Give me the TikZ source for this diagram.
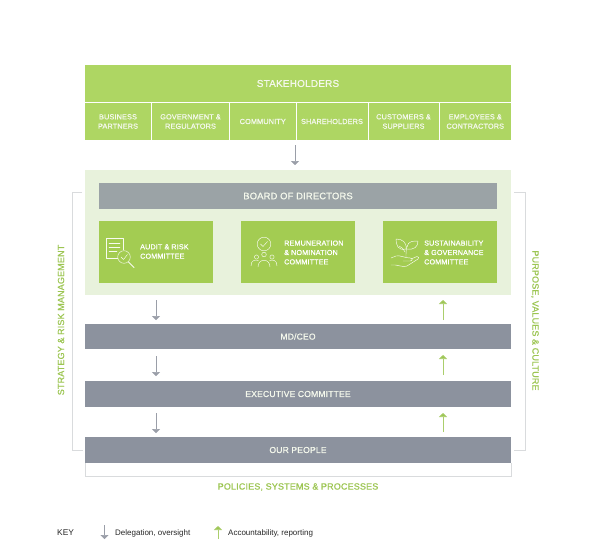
\documentclass[tikz,border=0pt]{standalone}
\usepackage{fontspec}
\setmainfont{Liberation Sans}[BoldFont={Liberation Sans},BoldFeatures={FakeBold=0.8,LetterSpace=1.8}]
\usetikzlibrary{arrows.meta}
\definecolor{gTop}{HTML}{AED663}
\definecolor{gCom}{HTML}{A3CC52}
\definecolor{gLight}{HTML}{E8F2DC}
\definecolor{gText}{HTML}{9CC552}
\definecolor{board}{HTML}{9BA3A6}
\definecolor{bar}{HTML}{8C929E}
\definecolor{rule}{HTML}{D9DBDD}
\definecolor{arrG}{HTML}{9A9EA8}
\definecolor{txtW}{HTML}{F4F8EC}
\tikzset{
  x=1pt,y=-1pt,
  cell/.style={anchor=north west,inner sep=0pt,outer sep=0pt,align=center,text=txtW,font=\bfseries\fontsize{7.3}{9.4}\selectfont},
  head/.style={cell,font=\fontsize{10}{12}\selectfont\bfseries},
  topbox/.style={cell,fill=gTop},
  topbig/.style={head,fill=gTop},
  combox/.style={cell,fill=gCom},
  boardbox/.style={head,fill=board,font=\fontsize{9.4}{11}\selectfont\bfseries},
  barbox/.style={head,fill=bar,font=\fontsize{8.6}{11}\selectfont\bfseries},
  lab/.style={inner sep=0pt,text=white,align=left,font=\bfseries\fontsize{7.2}{9.4}\selectfont},
  side/.style={inner sep=0pt,text=gText,font=\bfseries\fontsize{9}{11}\selectfont},
  keytxt/.style={inner sep=0pt,anchor=west,text=black!85,font=\fontsize{8}{9}\selectfont},
  downarr/.style={draw=arrG,line width=.6pt,-{Triangle[width=8pt,length=4pt,fill=arrG]}},
  uparr/.style={draw=gText!85!white,line width=.6pt,-{Triangle[width=8pt,length=4pt,fill=gText]}},
  brk/.style={draw=rule,line width=.7pt},
  ico/.style={draw=white!92!gCom,line width=.45pt,line cap=round,line join=round},
}
\begin{document}
\begin{tikzpicture}
\useasboundingbox (0,0) rectangle (594,557);
% stakeholders
\node[topbig,minimum width=426pt,minimum height=37pt] (st) at (85,65) {STAKEHOLDERS};
\node[topbox,minimum width=66pt,minimum height=37pt] (s1) at (85,103) {BUSINESS\\PARTNERS};
\node[topbox,minimum width=77pt,minimum height=37pt] (s2) at (152,103) {GOVERNMENT \&\\REGULATORS};
\node[topbox,minimum width=65.5pt,minimum height=37pt] (s3) at (230,103) {COMMUNITY};
\node[topbox,minimum width=71pt,minimum height=37pt] (s4) at (296.5,103) {SHAREHOLDERS};
\node[topbox,minimum width=70pt,minimum height=37pt] (s5) at (368.5,103) {CUSTOMERS \&\\SUPPLIERS};
\node[topbox,minimum width=71.5pt,minimum height=37pt] (s6) at (439.5,103) {EMPLOYEES \&\\CONTRACTORS};
% board group
\node[cell,fill=gLight,minimum width=426pt,minimum height=125pt] (grp) at (85,170) {};
\node[boardbox,minimum width=398pt,minimum height=26pt] (bd) at (99,183) {BOARD OF DIRECTORS};
\node[combox,minimum width=114pt,minimum height=62pt] (c1) at (99,221) {};
\node[combox,minimum width=114pt,minimum height=62pt] (c2) at (241,221) {};
\node[combox,minimum width=114pt,minimum height=62pt] (c3) at (383,221) {};
\node[lab,anchor=west] (l1) at (140,251.5) {AUDIT \& RISK\\COMMITTEE};
\node[lab,anchor=west] (l2) at (284,252.5) {REMUNERATION\\\&  NOMINATION\\COMMITTEE};
\node[lab,anchor=west] (l3) at (424,252.5) {SUSTAINABILITY\\\& GOVERNANCE\\COMMITTEE};
% bars
\node[barbox,minimum width=426pt,minimum height=25pt] (md) at (85,324) {MD/CEO};
\node[barbox,minimum width=426pt,minimum height=26pt] (ex) at (85,381) {EXECUTIVE COMMITTEE};
\node[barbox,minimum width=426pt,minimum height=26pt] (pp) at (85,437) {OUR PEOPLE};
% brackets
\coordinate (lt) at (82,192); \coordinate (lb) at (83,450);
\coordinate (rt) at (514,192); \coordinate (rb) at (514,450);
\draw[brk] (lt) -- (72,192) -- (72,450) -- (lb);
\draw[brk] (rt) -- (525.7,192) -- (525.7,450) -- (rb);
\draw[brk] (pp.south west) -- ++(0,13) -| (pp.south east);
% side labels
\node[side,rotate=90] (sl) at (61,320) {STRATEGY \& RISK MANAGEMENT};
\node[side,rotate=-90] (sr) at (535,320.5) {PURPOSE, VALUES \& CULTURE};
\node[side] (sb) at (298,487) {POLICIES, SYSTEMS \& PROCESSES};
% arrows
\coordinate (a0) at (295,145); \coordinate (a0e) at (295,165);
\draw[downarr] (a0) -- (a0e);
\foreach \n/\ya/\yb in {1/300/320,2/356/376,3/413/433}{
  \coordinate (d\n a) at (156,\ya); \coordinate (d\n b) at (156,\yb);
  \draw[downarr] (d\n a) -- (d\n b);
}
\foreach \n/\ya/\yb in {1/320/300,2/375/355,3/432/413}{
  \coordinate (u\n a) at (443,\ya); \coordinate (u\n b) at (443,\yb);
  \draw[uparr] (u\n a) -- (u\n b);
}
% key
\node[inner sep=0pt,anchor=west,text=black!85,font=\fontsize{8.4}{10}\selectfont] (key) at (57,533) {KEY};
\coordinate (kd) at (104.5,525); \coordinate (kde) at (104.5,539);
\draw[downarr] (kd) -- (kde);
\node[keytxt] (kt1) at (115,533) {Delegation, oversight};
\coordinate (ku) at (218,539); \coordinate (kue) at (218,526);
\draw[uparr] (ku) -- (kue);
\node[keytxt] (kt2) at (228,533) {Accountability, reporting};
% audit icon
\draw[ico] (118,258) -- (106,258) -- (106,238) -- (123,238) -- (123,250);
\draw[ico] (109,243) -- (120,243) (109,247) -- (120,247) (109,251) -- (117,251);
\draw[ico] (124,257) circle (6.3);
\draw[ico] (121,257) -- (123.5,259.5) -- (127.5,254.5);
\draw[ico,line width=.9pt] (128.5,262) -- (134,267.5);
% remuneration icon
\draw[ico] (264,244) circle (6.8);
\draw[ico] (260.5,244) -- (263,246.5) -- (267.5,241.5);
\draw[ico] (264,254.5) circle (2.3) (256.5,257) circle (2.1) (272,257) circle (2.1);
\draw[ico] (258,267) .. controls (258,258) and (270,258) .. (270,267);
\draw[ico] (251,266) .. controls (251,260) and (255,259.5) .. (258.5,260.5);
\draw[ico] (277,266) .. controls (277,260) and (273,259.5) .. (269.5,260.5);
% plant icon
\draw[ico] (406,257) .. controls (406,252) and (406,250) .. (407,246);
\draw[ico] (406,249) .. controls (398,251) and (396,245) .. (396,239) .. controls (402,239) and (407,242) .. (406,249);
\draw[ico] (407,247) .. controls (408,241) and (413,241) .. (418,241) .. controls (418,247) and (414,250) .. (407,249);
\draw[ico] (405,252) .. controls (403,248) and (401,247) .. (399,246);
\draw[ico] (391,258) -- (396,256) .. controls (400,255) and (405,258) .. (410,258) .. controls (413,258) and (413,261) .. (410,261) -- (403,261);
\draw[ico] (411,259) -- (417,256.5) .. controls (419,256) and (419,258.5) .. (418,259) -- (407,266) .. controls (403,268) and (397,264) .. (391,265);
\end{tikzpicture}
\end{document}
